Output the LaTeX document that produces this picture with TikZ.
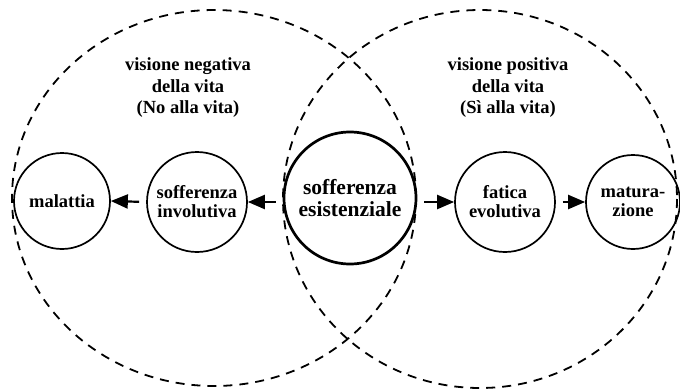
\documentclass[tikz,border=0pt]{standalone}
\usepackage{fontspec}
\setmainfont{Liberation Serif}
\usetikzlibrary{arrows.meta}
\begin{document}
\begin{tikzpicture}[x=1pt,y=-1pt,
  bubble/.style={circle,draw,line width=1.7pt,inner sep=0pt,align=center,
    font=\fontsize{18.5}{19}\selectfont\bfseries},
  bigbubble/.style={bubble,line width=2.7pt,font=\fontsize{21.5}{21.5}\selectfont\bfseries},
  caption/.style={align=center,font=\fontsize{18.5}{21.5}\selectfont\bfseries},
  region/.style={line width=1.8pt,dash pattern=on 9pt off 7pt},
  arr/.style={line width=2.2pt,-{Triangle[length=17pt,width=14pt]},shorten <=7pt}]
\useasboundingbox (0,0) rectangle (680,389);
\draw[region] (214,198) ellipse [x radius=202, y radius=188];
\draw[region] (480,199) ellipse [x radius=197, y radius=189];
\node[bubble,minimum size=96] (mal) at (62,201) {malattia};
\node[bubble,minimum size=100] (inv) at (197,202) {sofferenza\\involutiva};
\node[bigbubble,minimum size=132] (esi) at (350,198) {sofferenza\\esistenziale};
\node[bubble,minimum size=100] (fat) at (505,202) {fatica\\evolutiva};
\node[bubble,minimum size=94] (mat) at (633,202) {matura-\\zione};
\node[caption] (neg) at (188,88) {visione negativa\\della vita\\(No alla vita)};
\node[caption] (pos) at (508,88) {visione positiva\\della vita\\(Sì alla vita)};
\draw[arr] (inv.west) -- (mal.east);
\draw[arr] (esi.west |- inv.east) -- (inv.east);
\draw[arr] (esi.east |- fat.west) -- (fat.west);
\draw[arr] (fat.east) -- (mat.west);
\end{tikzpicture}
\end{document}
